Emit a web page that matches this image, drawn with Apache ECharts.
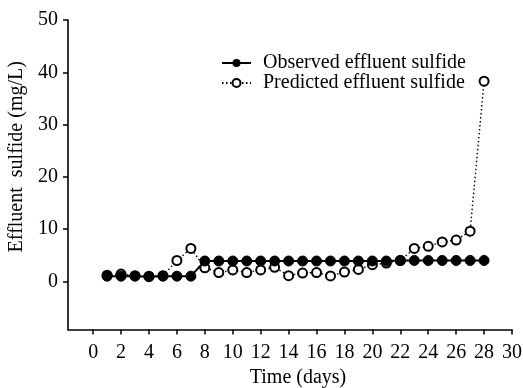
<!DOCTYPE html>
<html>
<head>
<meta charset="utf-8">
<script src="https://cdn.jsdelivr.net/npm/echarts@6/dist/echarts.min.js"></script>
<style>html,body{margin:0;padding:0;background:#fff}#c{width:523px;height:388px}</style>
</head>
<body>
<div id="c"></div>
<script>
var days = [1,2,3,4,5,6,7,8,9,10,11,12,13,14,15,16,17,18,19,20,21,22,23,24,25,26,27,28];
var observed = [1.0,1.0,1.0,0.9,1.0,1.0,1.0,3.9,3.9,3.9,3.9,3.9,3.9,3.9,3.9,3.9,3.9,3.9,3.9,3.9,3.9,4.0,4.0,4.0,4.0,4.0,4.0,4.0];
var predicted = [1.2,1.4,1.1,1.0,1.1,4.0,6.3,2.6,1.7,2.2,1.7,2.2,2.7,1.1,1.6,1.7,1.05,1.8,2.3,3.2,3.5,4.0,6.3,6.7,7.55,7.9,9.6,38.3];
var xTicks = [0,2,4,6,8,10,12,14,16,18,20,22,24,26,28,30];
var yTicks = [0,10,20,30,40,50];

function pairs(v){ return days.map(function(d,i){ return [d, v[i]]; }); }

var font = 'Liberation Serif';
var chart = echarts.init(document.getElementById('c'), null, {renderer:'canvas'});
chart.setOption({
  animation: false,
  backgroundColor: '#fff',
  textStyle: {fontFamily: font, color: '#000'},
  grid: {left: 68, right: 11, top: 20, bottom: 58.5, containLabel: false, outerBoundsMode: 'none'},
  legend: {
    left: 221, top: 53, orient: 'vertical', padding: 0, itemGap: 0, itemWidth: 29, itemHeight: 10,
    textStyle: {fontFamily: font, fontSize: 20, lineHeight: 18, color: '#000', padding: [0,0,0,7]},
    data: ['Observed effluent sulfide', 'Predicted effluent sulfide']
  },
  xAxis: {
    type: 'value', min: -1.8, max: 30,
    name: 'Time (days)', nameLocation: 'middle', nameGap: 38,
    nameTextStyle: {fontFamily: font, fontSize: 20, color: '#000', padding: [0,0,0,16]},
    axisLine: {show: true, onZero: false, lineStyle: {color: '#000', width: 1.6}},
    axisTick: {show: true, length: 5, lineStyle: {color: '#000', width: 1.5}, customValues: xTicks},
    axisLabel: {fontFamily: font, fontSize: 20, color: '#000', margin: 13, customValues: xTicks},
    splitLine: {show: false}
  },
  yAxis: {
    type: 'value', min: -9.2, max: 50,
    name: 'Effluent  sulfide (mg/L)', nameLocation: 'middle', nameGap: 33, nameRotate: 90,
    nameTextStyle: {fontFamily: font, fontSize: 20, color: '#000', padding: [0,0,0,36]},
    axisLine: {show: true, onZero: false, lineStyle: {color: '#000', width: 1.6}},
    axisTick: {show: true, length: 5, lineStyle: {color: '#000', width: 1.5}, customValues: yTicks},
    axisLabel: {fontFamily: font, fontSize: 20, color: '#000', margin: 10, customValues: yTicks},
    splitLine: {show: false}
  },
  series: [
    {
      name: 'Predicted effluent sulfide', type: 'line', data: pairs(predicted), z: 2,
      symbol: 'emptyCircle', symbolSize: 9,
      lineStyle: {color: '#000', width: 1.4, type: [1.5, 2.5]},
      itemStyle: {color: '#000', borderColor: '#000', borderWidth: 1.5}
    },
    {
      name: 'Observed effluent sulfide', type: 'line', data: pairs(observed), z: 3,
      symbol: 'circle', symbolSize: 10,
      lineStyle: {color: '#000', width: 2},
      itemStyle: {color: '#000', borderColor: '#000'}
    }
  ]
});
</script>
</body>
</html>
